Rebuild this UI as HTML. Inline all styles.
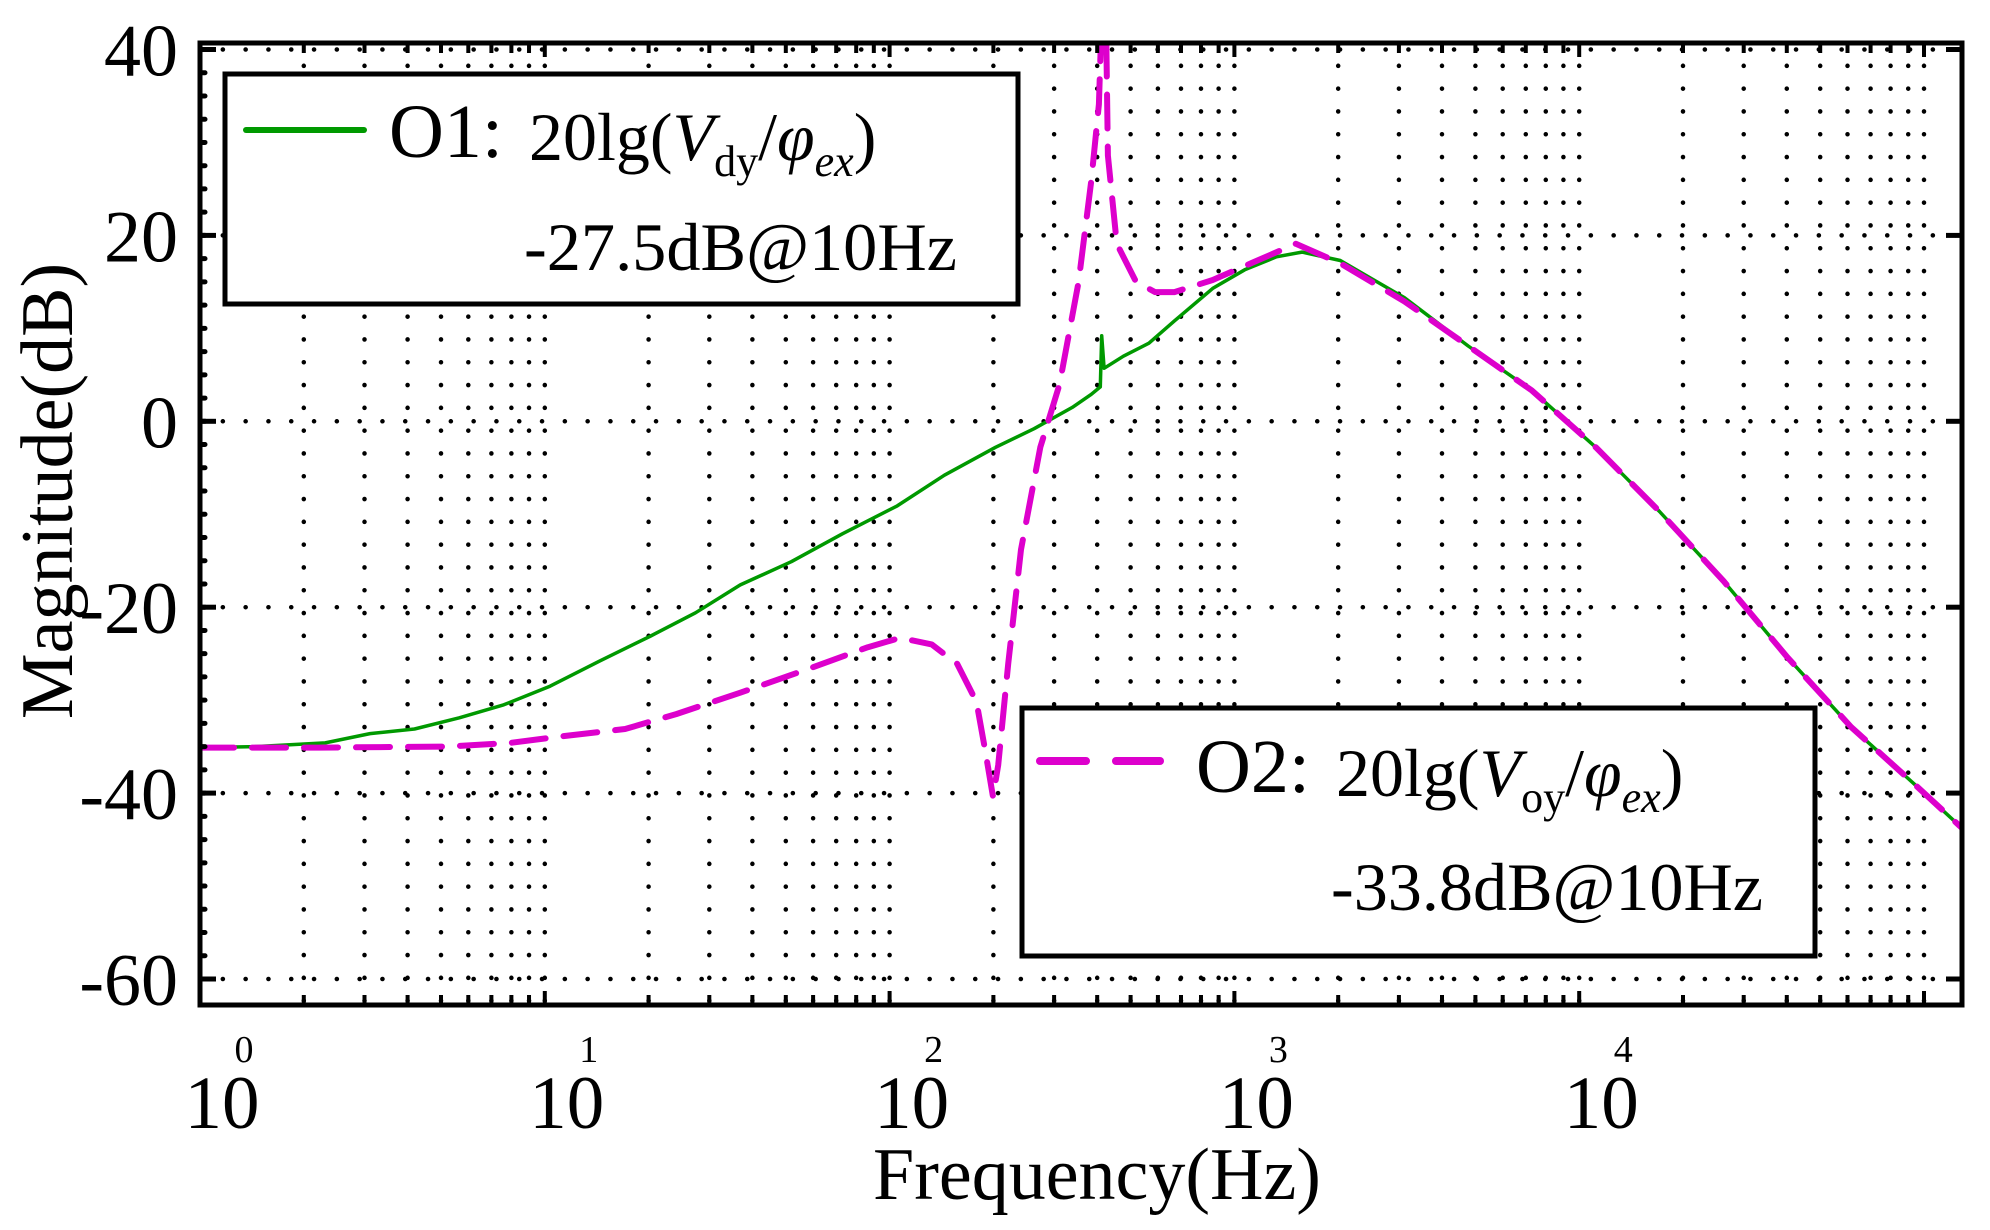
<!DOCTYPE html>
<html><head><meta charset="utf-8"><style>
html,body{margin:0;padding:0;background:#fff;}
svg{display:block;font-family:"Liberation Serif",serif;}
</style></head><body>
<svg id="chart" width="1990" height="1230" viewBox="0 0 1990 1230" xmlns="http://www.w3.org/2000/svg">
<defs><clipPath id="plotclip"><rect x="200" y="43" width="1762" height="962"/></clipPath></defs>
<g id="grid"></g>
<g id="series" clip-path="url(#plotclip)"></g>
<rect x="200" y="43" width="1762" height="962" fill="none" stroke="#000" stroke-width="5"/>
<g id="ticks"></g>
<g id="labels" fill="#000"></g>
<text x="1097" y="1199" font-size="74" text-anchor="middle">Frequency(Hz)</text>
<text transform="translate(72,491) rotate(-90)" font-size="74" text-anchor="middle">Magnitude(dB)</text>

<g>
<rect x="225" y="74" width="793" height="230" fill="#fff" stroke="#000" stroke-width="5"/>
<line x1="246" y1="130" x2="364" y2="130" stroke="#009900" stroke-width="6" stroke-linecap="round"/>
<text x="389" y="157" font-size="76">O1:</text>
<text x="529" y="160" font-size="68">20lg(<tspan font-style="italic">V</tspan><tspan font-size="44" dy="16">dy</tspan><tspan dy="-16">/</tspan><tspan font-style="italic">φ</tspan><tspan font-size="44" font-style="italic" dy="16">ex</tspan><tspan dy="-16">)</tspan></text>
<text x="524" y="270" font-size="68" textLength="433" lengthAdjust="spacingAndGlyphs">-27.5dB@10Hz</text>
</g>
<g>
<rect x="1022" y="708" width="793" height="248" fill="#fff" stroke="#000" stroke-width="5"/>
<line x1="1040" y1="761" x2="1160" y2="761" stroke="#dd00cc" stroke-width="8" stroke-linecap="round" stroke-dasharray="46 30"/>
<text x="1196" y="792" font-size="76">O2:</text>
<text x="1336" y="796" font-size="68">20lg(<tspan font-style="italic">V</tspan><tspan font-size="44" dy="16">oy</tspan><tspan dy="-16">/</tspan><tspan font-style="italic">φ</tspan><tspan font-size="44" font-style="italic" dy="16">ex</tspan><tspan dy="-16">)</tspan></text>
<text x="1331" y="910" font-size="68" textLength="432" lengthAdjust="spacingAndGlyphs">-33.8dB@10Hz</text>
</g>
</svg>
<script>
// data: log10(frequency) and magnitude (dB)
const o1LogF = [0,0.159,0.363,0.493,0.622,0.752,0.881,1.015,1.159,1.307,1.437,1.567,1.715,1.863,2.022,2.159,2.307,2.419,2.530,2.585,2.611,2.615,2.622,2.678,2.752,2.826,2.937,3.030,3.122,3.196,3.307,3.493,3.678,3.863,4.048,4.233,4.419,4.604,4.789,4.974,5.152];
const o1Mag = [-35.1,-35.0,-34.6,-33.6,-33.1,-31.9,-30.5,-28.5,-25.8,-23.1,-20.6,-17.6,-15.1,-12.1,-9.1,-5.8,-2.8,-0.8,1.5,2.9,3.7,9.2,5.7,7.0,8.4,10.8,14.3,16.3,17.7,18.2,17.3,13.3,8.1,3.3,-2.8,-9.7,-17.2,-25.4,-32.9,-39.1,-45.2];
const o2LogF = [0,0.344,0.715,0.9,1.048,1.233,1.381,1.567,1.752,1.937,2.030,2.122,2.196,2.252,2.278,2.300,2.315,2.344,2.381,2.437,2.493,2.548,2.585,2.607,2.619,2.626,2.633,2.659,2.715,2.770,2.826,2.937,3.048,3.178,3.307,3.493,3.678,3.863,4.048,4.233,4.419,4.604,4.789,4.974,5.152];
const o2Mag = [-35.1,-35.1,-35.0,-34.6,-33.9,-33.1,-31.5,-29.2,-26.8,-24.3,-23.3,-24.0,-26.1,-30.2,-35.6,-40.4,-37.0,-26.1,-13.8,-2.8,4.0,15.0,25.9,34.1,48,48,28.6,19.1,15.0,13.9,13.9,15.2,17.0,19.1,17.0,12.9,8.1,3.3,-2.8,-9.7,-17.2,-25.4,-32.9,-39.1,-45.2];
const yTicks = [40,20,0,-20,-40,-60];
const xDecades = [0,1,2,3,4];

const NS='http://www.w3.org/2000/svg';
const X0=200, DEC=344.8, XR=1962, YT=43, YB=1005;
function xs(lf){return X0+lf*DEC;}
function ys(db){return 49.5+(40-db)*9.295;}
function mk(tag,attrs,parent){const e=document.createElementNS(NS,tag);for(const k in attrs)e.setAttribute(k,attrs[k]);parent.appendChild(e);return e;}
const grid=document.getElementById('grid'), ticks=document.getElementById('ticks'), labels=document.getElementById('labels'), series=document.getElementById('series');

for(let d=0; d<=5; d++){
  for(let m=1;m<=9;m++){
    const lf=d+Math.log10(m);
    const x=xs(lf);
    if(x<=X0+1||x>=XR-1) continue;
    const g=mk('line',{x1:x,y1:YT,x2:x,y2:YB,stroke:'#000','stroke-width':4.5,'stroke-linecap':'round','stroke-dasharray':'0.1 22.7'},grid);
    
    
    const len=(m===1)?14:10;
    const t1=mk('line',{x1:x,y1:YB,x2:x,y2:YB-len,stroke:'#000','stroke-width':4},ticks);
    
    
    const t2=mk('line',{x1:x,y1:YT,x2:x,y2:YT+len,stroke:'#000','stroke-width':4},ticks);
    
    
  }
}
yTicks.forEach(v=>{
  const y=ys(v);
  const g=mk('line',{x1:X0,y1:y,x2:XR,y2:y,stroke:'#000','stroke-width':4.5,'stroke-linecap':'round','stroke-dasharray':'0.1 22.7'},grid);
  
  
  const t1=mk('line',{x1:X0,y1:y,x2:X0+16,y2:y,stroke:'#000','stroke-width':5},ticks);
  
  
  const t2=mk('line',{x1:XR,y1:y,x2:XR-16,y2:y,stroke:'#000','stroke-width':5},ticks);
  
  
  const tl=mk('text',{x:178,y:y+26,'font-size':74,'text-anchor':'end'},labels);
  tl.textContent=String(v);
  
  
});
for(let v=-62.5; v<=40; v+=2.5){
  const y=ys(v); if(y<YT+3||y>YB-3) continue;
  const t=mk('line',{x1:X0,y1:y,x2:X0+5,y2:y,stroke:'#000','stroke-width':5,'stroke-linecap':'round'},ticks);
  
  
}
xDecades.forEach(d=>{
  const x=xs(d);
  const b=mk('text',{x:x+22,y:1128,'font-size':75,'text-anchor':'middle'},labels);
  b.textContent='10';
  
  
  const e=mk('text',{x:x+44,y:1062,'font-size':38,'text-anchor':'middle'},labels);
  e.textContent=String(d);
  
  
});
function pathD(lf,mg){return lf.map((v,i)=>(i?'L':'M')+xs(v).toFixed(1)+','+ys(mg[i]).toFixed(1)).join(' ');}
const p1=mk('path',{d:pathD(o1LogF,o1Mag),fill:'none',stroke:'#009900','stroke-width':3.5,'stroke-linejoin':'round'},series);


const p2=mk('path',{d:pathD(o2LogF,o2Mag),fill:'none',stroke:'#dd00cc','stroke-width':6,'stroke-linecap':'round','stroke-linejoin':'round','stroke-dasharray':'34 18'},series);


</script>
</body></html>
